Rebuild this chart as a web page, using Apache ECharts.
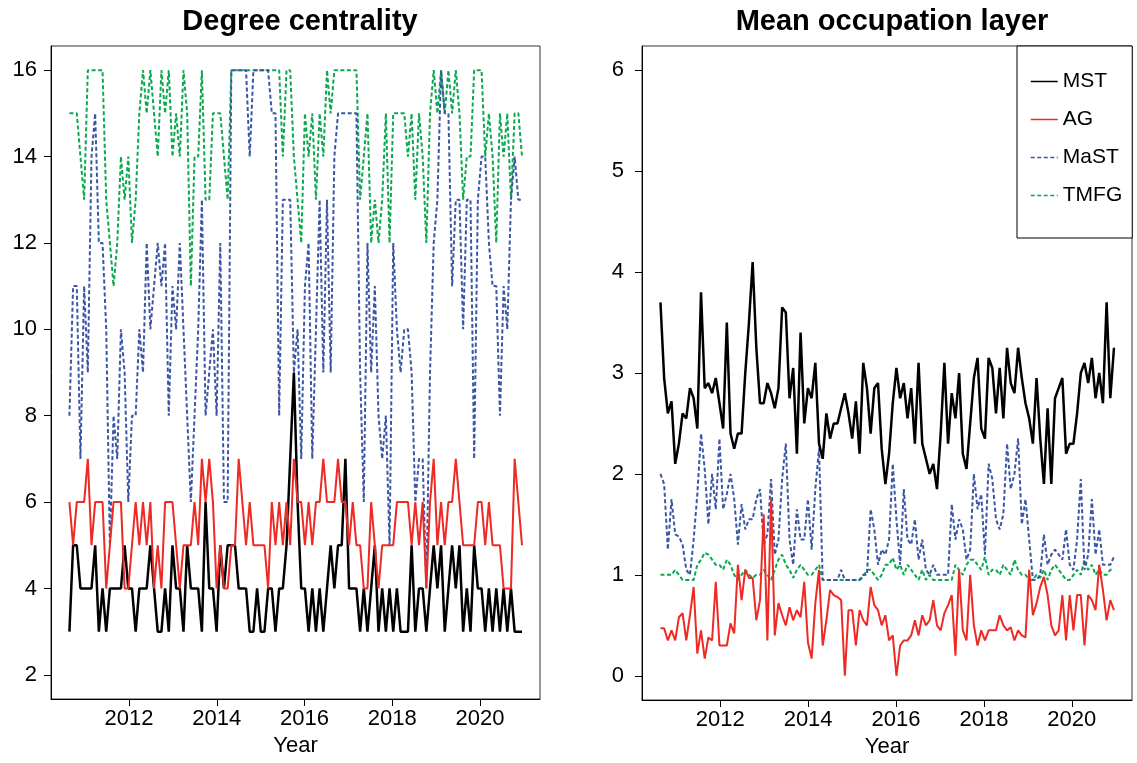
<!DOCTYPE html>
<html><head><meta charset="utf-8">
<script src="https://cdn.jsdelivr.net/npm/echarts@6/dist/echarts.min.js"></script>
<style>html,body{margin:0;padding:0;background:#fff}#c{width:1137px;height:763px}</style>
</head><body><div id="c"></div>
<script>
// time range of the observations (decimal years)
const startYear = 2010.64;
const endYear = 2020.96;
const yearTicks = [2012, 2014, 2016, 2018, 2020];
const degTicks = [2, 4, 6, 8, 10, 12, 14, 16];
const occTicks = [0, 1, 2, 3, 4, 5, 6];
const seriesNames = ['MST', 'AG', 'MaST', 'TMFG'];
const titles = ['Degree centrality', 'Mean occupation layer'];

// Degree centrality
const degMST = [3,5,5,4,4,4,4,5,3,4, 3,4,4,4,4,5,4,4,3,4, 4,4,5,4,3,3,4,3,5,4, 4,3,5,4,4,4,3,6,4,4,
  3,5,4,5,5,5,4,4,4,3, 3,4,3,3,4,4,3,4,4,5, 7,9,6,4,4,3,4,3,4,3, 4,5,4,5,5,7,4,4,4,3,
  4,3,4,5,3,4,3,4,3,4, 3,3,3,5,3,4,4,3,4,5, 4,5,3,4,5,4,5,3,4,3, 5,4,4,3,4,3,4,3,4,3, 4,3,3,3];
const degAG = [6,5,6,6,6,7,5,6,6,6, 4,5,6,6,6,4,4,5,6,5, 6,5,6,4,5,4,6,6,6,5, 4,5,5,5,6,5,7,6,7,6,
  4,5,4,4,5,5,7,6,5,6, 5,5,5,5,4,6,5,6,5,6, 5,7,6,6,5,6,5,6,6,7, 6,6,6,7,6,6,5,6,5,5,
  4,4,6,5,4,5,5,5,5,6, 6,6,6,5,6,5,6,4,6,7, 5,6,5,6,6,7,6,5,5,5, 5,6,6,5,6,5,5,5,4,4, 4,7,6,5];
const degMaST = [8,11,11,7,11,9,14,15,12,12, 10,5,8,7,10,9,6,8,8,10, 9,12,10,11,12,11,12,8,11,10, 12,10,8,6,8,10,13,8,9,10,
  8,12,6,6,16,16,16,16,16,14, 16,16,16,16,16,15,15,8,13,13, 13,9,10,7,11,12,7,10,13,9, 13,9,14,15,15,15,15,15,15,9,
  6,12,9,11,8,7,8,5,12,10, 9,10,10,9,6,7,7,4,9,12, 13,16,15,15,11,13,13,10,13,13, 7,13,14,14,12,11,11,8,11,10, 13,14,13,13];
const degTMFG = [15,15,15,14,13,16,16,16,16,16, 13,12,11,12,14,13,14,12,13,15, 16,15,16,15,14,16,15,16,14,15, 14,16,15,11,14,14,16,13,13,15,
  15,15,14,13,16,16,16,16,16,16, 16,16,16,16,16,16,16,16,14,16, 16,14,13,12,15,14,15,13,15,14, 16,15,16,16,16,16,16,16,16,13,
  14,15,12,13,12,13,15,12,15,15, 15,15,14,15,13,15,14,12,15,16, 15,16,15,16,15,16,15,13,14,14, 16,16,16,14,15,14,12,15,14,15, 13,15,15,14];

// Mean occupation layer
const occMST = [3.7,2.95,2.6,2.72,2.1,2.3,2.6,2.55,2.85,2.75, 2.45,3.8,2.85,2.9,2.8,2.95,2.7,2.45,3.5,2.4,
  2.25,2.4,2.4,3.0,3.5,4.1,3.25,2.7,2.7,2.9, 2.8,2.65,2.85,3.65,3.6,2.75,3.05,2.2,3.4,2.5,
  2.85,2.75,3.1,2.3,2.15,2.6,2.35,2.5,2.5,2.65, 2.8,2.6,2.35,2.72,2.2,3.1,2.85,2.4,2.85,2.9,
  2.25,1.9,2.2,2.7,3.05,2.75,2.9,2.55,2.85,2.3, 3.1,2.3,2.15,2.0,2.1,1.85,2.4,3.1,2.3,2.8,
  2.55,3.0,2.2,2.05,2.5,2.95,3.15,2.45,2.35,3.15, 3.05,2.6,3.05,2.55,3.25,2.9,2.8,3.25,2.95,2.7,
  2.55,2.3,2.95,2.35,1.9,2.65,1.9,2.75,2.85,2.95, 2.2,2.3,2.3,2.6,3.0,3.1,2.9,3.15,2.75,3.0, 2.7,3.7,2.75,3.25];
const occAG = [0.47,0.47,0.35,0.45,0.35,0.58,0.62,0.35,0.6,0.88, 0.22,0.45,0.17,0.38,0.35,0.93,0.3,0.3,0.3,0.52,
  0.42,1.1,0.75,1.05,0.97,0.97,0.55,0.75,1.6,0.35, 1.75,0.4,0.72,0.6,0.5,0.68,0.55,0.65,0.58,0.93,
  0.33,0.17,0.72,1.05,0.3,0.55,0.85,0.8,0.78,0.75, 0.0,0.65,0.65,0.3,0.65,0.55,0.5,0.88,0.7,0.65,
  0.5,0.6,0.35,0.4,0.0,0.3,0.35,0.35,0.4,0.55, 0.4,0.6,0.5,0.55,0.75,0.5,0.45,0.62,0.7,0.8,
  0.2,1.05,0.45,0.35,1.0,0.5,0.3,0.45,0.35,0.45, 0.45,0.45,0.6,0.5,0.45,0.48,0.35,0.45,0.4,0.38,
  1.05,0.6,0.72,0.88,0.98,0.8,0.5,0.4,0.45,0.8, 0.35,0.8,0.45,0.8,0.8,0.3,0.8,0.75,0.65,1.1, 0.85,0.55,0.75,0.65];
const occMaST = [2.0,1.9,1.25,1.75,1.4,1.38,1.3,1.05,1.0,1.35, 1.8,2.4,2.05,1.5,2.0,1.65,2.35,1.65,1.8,2.0,
  1.75,1.3,1.7,1.45,1.55,1.55,1.75,1.85,1.3,1.4, 1.95,1.2,1.35,1.95,2.3,1.35,1.1,1.65,1.35,1.35,
  1.75,1.25,1.85,2.25,0.95,0.95,0.95,0.95,0.95,1.05, 0.95,0.95,0.95,0.95,0.95,1.0,1.0,1.65,1.45,1.1,
  1.25,1.2,1.35,2.1,1.55,1.1,1.85,1.35,1.3,1.55, 1.15,1.35,1.05,1.0,1.1,1.0,1.0,1.0,1.0,1.7,
  1.35,1.55,1.45,1.15,1.25,2.0,1.65,1.8,1.2,2.1, 1.95,1.55,1.45,1.6,2.3,1.85,2.0,2.35,1.5,1.75,
  1.35,0.95,0.95,1.0,1.4,1.1,1.2,1.25,1.2,1.15, 1.45,1.1,1.05,1.35,1.95,1.05,1.2,1.75,1.2,1.45, 1.1,1.1,1.1,1.18];
const occTMFG = [1.0,1.0,1.0,1.0,1.05,1.0,0.95,0.95,0.95,0.95, 1.1,1.15,1.22,1.2,1.15,1.1,1.1,1.05,1.15,1.1,
  1.0,0.95,1.0,1.05,1.0,0.97,1.0,1.0,1.05,1.0, 0.95,1.05,1.15,1.2,1.1,1.05,0.97,1.05,1.1,1.05,
  1.0,1.0,1.05,1.1,0.95,0.95,0.95,0.95,0.95,0.95, 0.95,0.95,0.95,0.95,0.95,0.98,1.05,1.05,1.0,0.95,
  1.0,1.1,1.1,1.17,1.05,1.1,1.0,1.1,1.05,1.0, 0.95,1.05,0.95,1.0,0.95,0.95,0.95,0.95,0.95,0.95,
  1.1,1.05,1.0,1.1,1.15,1.15,1.1,1.05,1.18,1.0, 1.05,1.05,1.0,1.1,1.05,1.0,1.15,1.05,1.0,1.0,
  0.95,0.95,1.0,0.97,1.05,0.95,1.05,1.1,1.05,1.0, 0.95,0.95,1.0,1.05,1.0,1.15,1.05,1.1,1.0,1.05, 1.0,1.0,1.05,1.05];

const FONT = '"Liberation Sans", Arial, Helvetica, sans-serif';
const styleOf = {
  MST:  {color: '#000000', width: 2.5, type: 'solid', z: 4},
  AG:   {color: '#ee2a24', width: 2,   type: 'solid', z: 5},
  MaST: {color: '#3b55a5', width: 2,   type: [4, 2.5], z: 3},
  TMFG: {color: '#0aa84f', width: 2,   type: [4, 2.5], z: 2}
};

function pts(vals) {
  const step = (endYear - startYear) / (vals.length - 1);
  return vals.map((v, i) => [startYear + i * step, v]);
}
const plain = v => String(v);

function mkX(g) {
  return {
    type: 'value', gridIndex: g, min: 2010.22, max: 2021.37,
    axisLine: {show: true, onZero: false, lineStyle: {color: '#000', width: 1}},
    axisTick: {show: true, length: 7, customValues: yearTicks, lineStyle: {color: '#000'}},
    axisLabel: {customValues: yearTicks, formatter: plain, fontSize: 22, color: '#000', margin: 9, fontFamily: FONT},
    splitLine: {show: false},
    name: 'Year', nameLocation: 'middle', nameGap: 35,
    nameTextStyle: {fontSize: 22, color: '#000', fontFamily: FONT}
  };
}
function mkY(g, min, max, ticks, margin) {
  return {
    type: 'value', gridIndex: g, min: min, max: max,
    axisLine: {show: true, onZero: false, lineStyle: {color: '#000', width: 1}},
    axisTick: {show: true, length: 7, customValues: ticks, lineStyle: {color: '#000'}},
    axisLabel: {customValues: ticks, formatter: plain, fontSize: 22, color: '#000', margin: margin, fontFamily: FONT},
    splitLine: {show: false}
  };
}
function mkSeries(name, vals, g) {
  const s = styleOf[name];
  return {
    name: name, type: 'line', xAxisIndex: g, yAxisIndex: g,
    data: pts(vals), symbol: 'none', showSymbol: false, z: s.z,
    color: s.color,
    lineStyle: {color: s.color, width: s.width, type: s.type},
    emphasis: {disabled: true}
  };
}

const chart = echarts.init(document.getElementById('c'), null, {renderer: 'canvas'});
chart.setOption({
  animation: false,
  backgroundColor: '#fff',
  title: [
    {text: titles[0], left: 295, top: 2, textAlign: 'center',
     textStyle: {fontSize: 29, fontWeight: 'bold', color: '#000', fontFamily: FONT}},
    {text: titles[1], left: 887, top: 2, textAlign: 'center',
     textStyle: {fontSize: 29, fontWeight: 'bold', color: '#000', fontFamily: FONT}}
  ],
  grid: [
    {left: 51, top: 46, width: 489, height: 653, show: true, borderColor: '#333', borderWidth: 1, containLabel: false},
    {left: 642, top: 46, width: 490, height: 654, show: true, borderColor: '#333', borderWidth: 1, containLabel: false}
  ],
  xAxis: [mkX(0), mkX(1)],
  yAxis: [mkY(0, 1.44, 16.56, degTicks, 14), mkY(1, -0.24, 6.24, occTicks, 18)],
  legend: {
    data: seriesNames, orient: 'vertical', left: 1017, top: 46,
    padding: [25, 10, 32, 13], itemWidth: 27, itemHeight: 14, itemGap: 17,
    textStyle: {fontSize: 21, lineHeight: 21, color: '#000', fontFamily: FONT},
    itemStyle: {opacity: 0, borderWidth: 0},
    lineStyle: {width: 1.5},
    borderColor: '#000', borderWidth: 1, borderRadius: 0, backgroundColor: '#fff',
    selectedMode: false, z: 10
  },
  series: [
    mkSeries('TMFG', degTMFG, 0), mkSeries('MaST', degMaST, 0), mkSeries('MST', degMST, 0), mkSeries('AG', degAG, 0),
    mkSeries('TMFG', occTMFG, 1), mkSeries('MaST', occMaST, 1), mkSeries('MST', occMST, 1), mkSeries('AG', occAG, 1)
  ]
});
</script></body></html>
